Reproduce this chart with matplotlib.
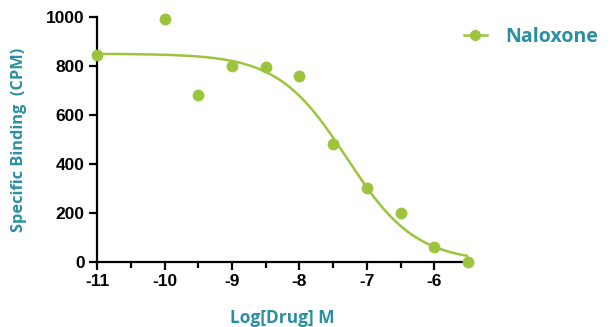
import numpy as np
import matplotlib
matplotlib.use('Agg')
import matplotlib.pyplot as plt
from matplotlib.lines import Line2D

# 数据
log_dose = [-11, -10, -9.5, -9, -8.5, -8, -7.5, -7, -6.5, -6, -5.5]
binding = [845, 993, 680, 800, 795, 760, 480, 300, 200, 60, 0]

# 拟合曲线参数（四参数逻辑）
top = 850
bottom = 0
log_ic50 = -7.3
hill = 0.85

green = '#9cc43c'
teal = '#2b8fa3'

plt.rcParams['font.family'] = ['Liberation Sans', 'DejaVu Sans']
plt.rcParams['axes.unicode_minus'] = False

fig = plt.figure(figsize=(6.11, 3.27), dpi=100)
ax = fig.add_axes([0.159, 0.199, 0.607, 0.749])

xs = np.linspace(-11, -5.5, 300)
curve = bottom + (top - bottom) / (1 + 10 ** ((xs - log_ic50) * hill))
ax.plot(xs, curve, color=green, lw=1.8, zorder=2)
ax.plot(log_dose, binding, 'o', color=green, ms=7.5, zorder=3, clip_on=False)

ax.set_xlim(-11, -5.5)
ax.set_ylim(0, 1000)
ax.set_xticks([-11, -10, -9, -8, -7, -6])
ax.set_xticks(np.arange(-10.5, -5.4, 1), minor=True)
ax.set_yticks([0, 200, 400, 600, 800, 1000])
ax.spines['top'].set_visible(False)
ax.spines['right'].set_visible(False)
for s in ['left', 'bottom']:
    ax.spines[s].set_linewidth(1.6)
ax.tick_params(which='major', length=6, width=1.6, labelsize=12.5, pad=3)
ax.tick_params(which='minor', length=4, width=1.6)
for lab in ax.get_xticklabels() + ax.get_yticklabels():
    lab.set_fontweight('bold')

ax.set_xlabel('Log[Drug] M', family=['Open Sans', 'DejaVu Sans'], fontweight='bold',
              fontsize=12.5, color=teal, labelpad=14)
ax.set_ylabel('Specific Binding  (CPM)', family=['Open Sans', 'DejaVu Sans'], fontweight='bold',
              fontsize=11.8, color=teal, labelpad=14)

handle = Line2D([], [], color=green, marker='o', ms=7, lw=1.8)
leg = fig.legend([handle], ['Naloxone'], loc='center left', bbox_to_anchor=(0.73, 0.887),
                 frameon=False, handlelength=1.2, handletextpad=0.95,
                 prop={'family': ['Open Sans', 'DejaVu Sans'], 'weight': 'bold', 'size': 14})
for t in leg.get_texts():
    t.set_color(teal)

fig.savefig('out.png', dpi=100)
